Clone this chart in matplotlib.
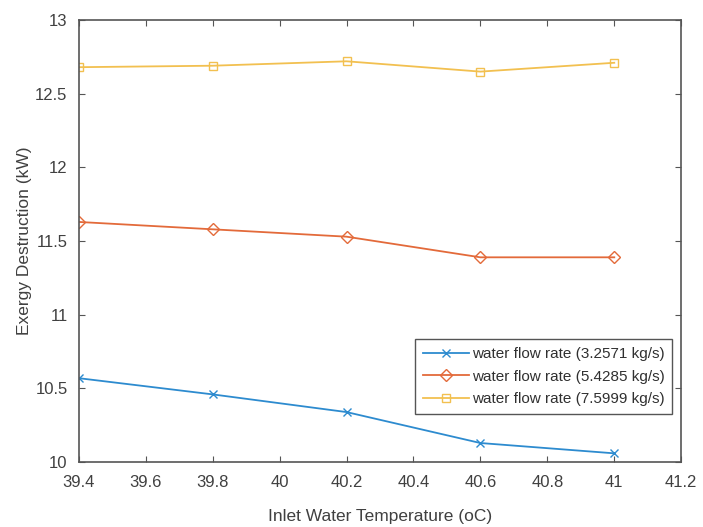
import matplotlib
matplotlib.use('Agg')
import matplotlib.pyplot as plt

plt.rcParams['font.family'] = ['Liberation Sans', 'DejaVu Sans']

# 입구 수온 (oC)
temp = [39.4, 39.8, 40.2, 40.6, 41.0]

# 유량별 엑서지 파괴량 (kW)
flow_low = [10.57, 10.46, 10.34, 10.13, 10.06]
flow_mid = [11.63, 11.58, 11.53, 11.39, 11.39]
flow_high = [12.68, 12.69, 12.72, 12.65, 12.71]

labels = ['water flow rate (3.2571 kg/s)',
          'water flow rate (5.4285 kg/s)',
          'water flow rate (7.5999 kg/s)']

fig = plt.figure(figsize=(7.03, 5.27), dpi=100)
ax = fig.add_axes([0.112, 0.123, 0.857, 0.839])

ax.plot(temp, flow_low, color='#2D8BCF', marker='x', markersize=6, lw=1.3, label=labels[0])
ax.plot(temp, flow_mid, color='#E36A3A', marker='D', markersize=6, lw=1.3,
        markerfacecolor='none', label=labels[1])
ax.plot(temp, flow_high, color='#F2C050', marker='s', markersize=6, lw=1.3,
        markerfacecolor='none', label=labels[2])

ax.set_xlim(39.4, 41.2)
ax.set_ylim(10, 13)
ax.set_xticks([39.4, 39.6, 39.8, 40.0, 40.2, 40.4, 40.6, 40.8, 41.0, 41.2])
ax.set_xticklabels(['39.4', '39.6', '39.8', '40', '40.2', '40.4', '40.6', '40.8', '41', '41.2'])
ax.set_yticks([10, 10.5, 11, 11.5, 12, 12.5, 13])
ax.set_yticklabels(['10', '10.5', '11', '11.5', '12', '12.5', '13'])

for s in ax.spines.values():
    s.set_color('#555555')
    s.set_linewidth(1.2)
ax.tick_params(direction='in', top=True, right=True, colors='#555555',
               labelcolor='#404040', labelsize=12, length=4)
ax.tick_params(axis='x', pad=9)
ax.tick_params(axis='y', pad=8)

ax.set_xlabel('Inlet Water Temperature (oC)', fontsize=12.5, color='#404040', labelpad=14)
ax.set_ylabel('Exergy Destruction (kW)', fontsize=12.5, color='#404040', labelpad=2)

leg = ax.legend(loc='lower right', bbox_to_anchor=(0.985, 0.11), fontsize=11,
                fancybox=False, framealpha=1, edgecolor='#555555',
                handlelength=3.0, borderpad=0.5, labelspacing=0.55,
                handletextpad=0.2, borderaxespad=0)
for t in leg.get_texts():
    t.set_color('#303030')

fig.savefig('out.png', dpi=100)
